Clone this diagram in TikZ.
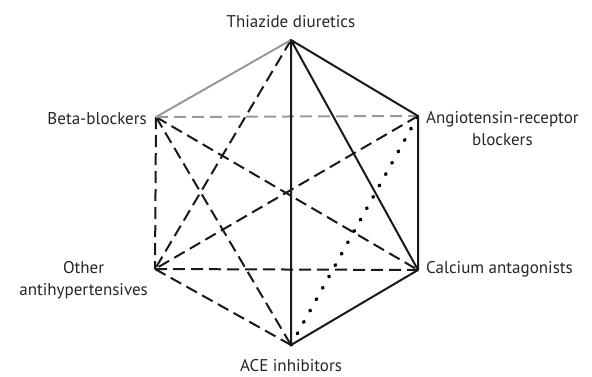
\documentclass[tikz,border=0pt]{standalone}
\usepackage{fontspec}
\setmainfont{PT Sans}
\begin{document}
\begin{tikzpicture}[x=1pt,y=-1pt,
  lab/.style={font=\fontsize{17}{22}\selectfont, text=black!85, inner sep=0pt},
  solidedge/.style={draw=black!90, line width=2pt, line cap=round, line join=round},
  greyedge/.style={draw=black!40, line width=2pt},
  dashedge/.style={draw=black!90, line width=2pt, dash pattern=on 12pt off 6pt},
  greydash/.style={draw=black!40, line width=2pt, dash pattern=on 12pt off 6pt},
  dotedge/.style={draw=black, line width=3.6pt, line cap=round, dash pattern=on 0.8pt off 12.2pt}]
\useasboundingbox (0,0) rectangle (592,376);
\coordinate (T) at (291,40);
\coordinate (A) at (418,116);
\coordinate (C) at (418,270);
\coordinate (E) at (291,345);
\coordinate (O) at (155,269);
\coordinate (B) at (156,117);
% labels
\node[lab, anchor=base] (tl) at (291,27) {Thiazide diuretics};
\node[lab, anchor=east] (bl) at (147,119) {Beta-blockers};
\node[lab, anchor=west, align=center] (al) at (426,129) {Angiotensin-receptor\\blockers};
\node[lab, anchor=west] (cl) at (426,269) {Calcium antagonists};
\node[lab, anchor=east, align=center] (ol) at (148,280) {Other\\antihypertensives};
\node[lab, anchor=base] (el) at (291,371) {ACE inhibitors};
% dashed edges
\draw[dashedge] (T) -- (O);
\draw[dashedge] (B) -- (O);
\draw[dashedge] (B) -- (C);
\draw[dashedge] (B) -- (E);
\draw[dashedge] (A) -- (O);
\draw[dashedge] (O) -- (C);
\draw[dashedge] (O) -- (E);
\draw[greydash] (B) -- (A);
\draw[dotedge] (E) -- (A);
% solid edges
\draw[greyedge] (B) -- (T);
\draw[solidedge] (T) -- (A) -- (C) -- (E) -- (T) -- (C);
\end{tikzpicture}
\end{document}
